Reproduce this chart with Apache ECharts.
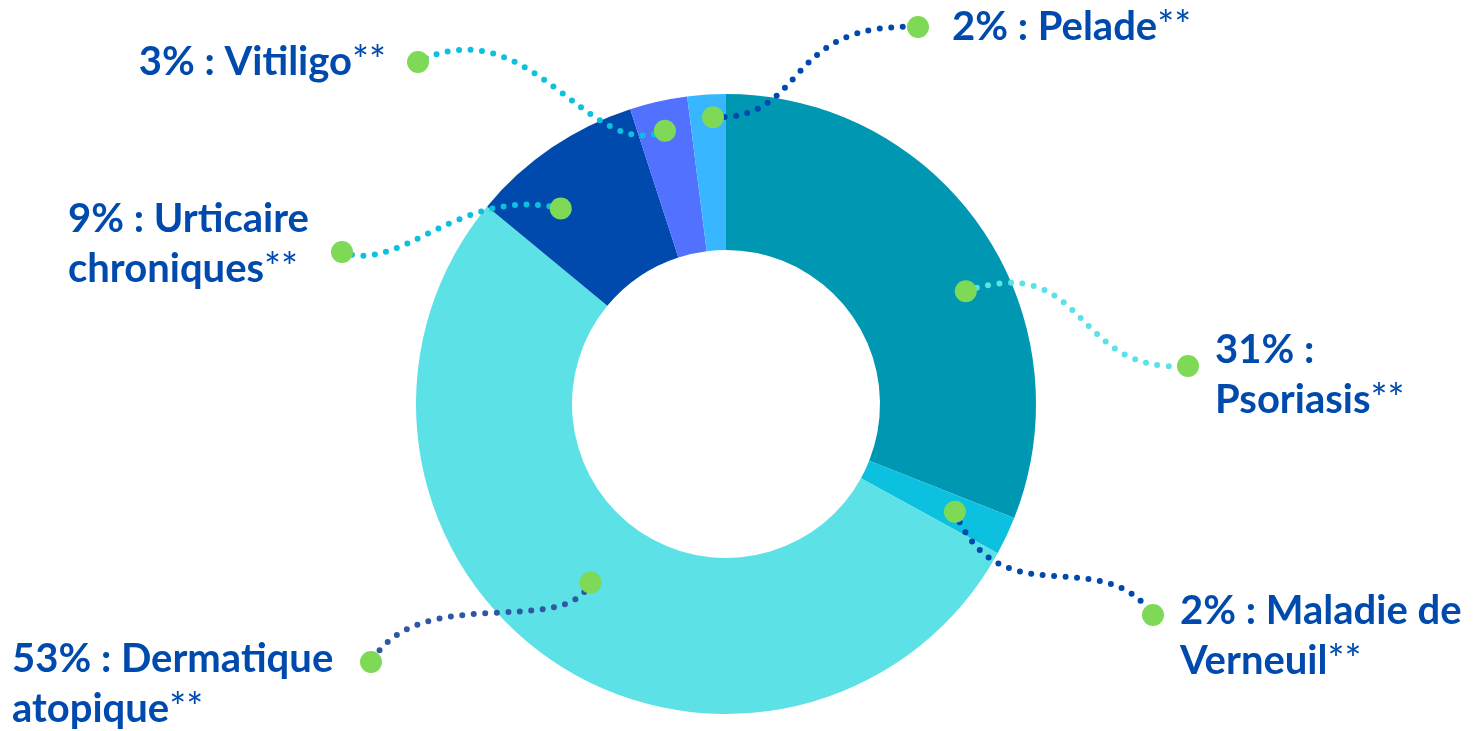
<!DOCTYPE html>
<html>
<head>
<meta charset="utf-8">
<script src="https://cdn.jsdelivr.net/npm/echarts@6/dist/echarts.min.js"></script>
<style>
html, body { margin: 0; padding: 0; background: #fff; }
#picture { width: 1479px; height: 731px; }
</style>
</head>
<body>
<div id="picture"></div>
<script>
// categories and shares (%), clockwise from 12 o'clock
var categories = ['Psoriasis', 'Maladie de Verneuil', 'Dermatique atopique', 'Urticaire chroniques', 'Vitiligo', 'Pelade'];
var shares = [31, 2, 53, 9, 3, 2];
var colors = ['#0097b2', '#0cc0df', '#5ce1e6', '#004aad', '#5271ff', '#38b6ff'];
var lineColors = ['#5ce1e6', '#004aad', '#2f57a3', '#0cc0df', '#0cc0df', '#004aad'];

// label placement + connector shape (layout only)
var labelPos = [
    {x: 1215, y: 375, align: 'left', wrap: 'Psoriasis', pre: true, end: [1188, 366], r: 265, dA: 9, cp1: [1090, 250], cp2: [1070, 375]},
    {x: 1180, y: 636, align: 'left', wrap: 'Maladie de\nVerneuil', end: [1153, 615], r: 253, dA: 0, cp1: [1000, 620], cp2: [1100, 540]},
    {x: 12, y: 684, align: 'left', wrap: 'Dermatique\natopique', end: [371, 662], r: 224, dA: 3, cp1: [565, 640], cp2: [420, 580]},
    {x: 68, y: 244, align: 'left', wrap: 'Urticaire\nchroniques', end: [342, 252], r: 256, dA: -6, cp1: [460, 185], cp2: [400, 275]},
    {x: 386, y: 62, align: 'right', wrap: 'Vitiligo', end: [418, 62], r: 280, dA: 0, cp1: [590, 165], cp2: [530, 5]},
    {x: 952, y: 27, align: 'left', wrap: 'Pelade', end: [918, 27], r: 287, dA: 1, cp1: [810, 120], cp2: [780, 22]}
];

var cx = 726, cy = 404;
var rIn = 154, rOut = 310;

function labelText(i) {
    var lp = labelPos[i];
    var head = shares[i] + '% :';
    var lines;
    if (lp.pre) {
        lines = [head, lp.wrap];
    } else {
        lines = (head + ' ' + lp.wrap).split('\n');
    }
    var out = [];
    for (var k = 0; k < lines.length; k++) {
        var s = '{b|' + lines[k] + '}';
        if (k == lines.length - 1) s += '{s|**}';
        out.push(s);
    }
    return out.join('\n');
}

function connectors() {
    var total = 0;
    for (var i = 0; i < shares.length; i++) total += shares[i];
    var els = [];
    var acc = 0;
    for (var i = 0; i < shares.length; i++) {
        var lp = labelPos[i];
        var mid = (acc + shares[i] / 2) / total * 360 + lp.dA;
        acc += shares[i];
        var a = mid * Math.PI / 180;
        var sx = cx + lp.r * Math.sin(a);
        var sy = cy - lp.r * Math.cos(a);
        els.push({
            type: 'bezierCurve',
            z: 100,
            silent: true,
            shape: {
                x1: sx, y1: sy,
                cpx1: lp.cp1[0], cpy1: lp.cp1[1],
                cpx2: lp.cp2[0], cpy2: lp.cp2[1],
                x2: lp.end[0], y2: lp.end[1]
            },
            style: {
                fill: null,
                stroke: lineColors[i],
                lineWidth: 6,
                lineDash: [0, 11.5],
                lineCap: 'round'
            }
        });
        els.push({type: 'circle', z: 101, silent: true, shape: {cx: sx, cy: sy, r: 11}, style: {fill: '#7ed957'}});
        els.push({type: 'circle', z: 101, silent: true, shape: {cx: lp.end[0], cy: lp.end[1], r: 11}, style: {fill: '#7ed957'}});
    }
    return els;
}

var data_pie = [];
for (var i = 0; i < categories.length; i++) {
    data_pie.push({value: shares[i], name: categories[i], itemStyle: {color: colors[i]}});
}

var myChart = echarts.init(document.getElementById('picture'));
var option = {
    animation: false,
    backgroundColor: '#fff',
    series: [
        {
            name: 'maladies',
            type: 'pie',
            center: [cx, cy],
            radius: [rIn, rOut],
            startAngle: 90,
            clockwise: true,
            avoidLabelOverlap: false,
            emphasis: {disabled: true},
            label: {
                show: true,
                position: 'outside',
                formatter: function (p) { return labelText(p.dataIndex); },
                rich: {
                    b: {
                        fontFamily: 'Lato',
                        fontWeight: 'bold',
                        fontSize: 40,
                        lineHeight: 50,
                        color: '#004aad'
                    },
                    s: {
                        fontFamily: 'Lato',
                        fontWeight: 'normal',
                        fontSize: 40,
                        lineHeight: 50,
                        color: '#004aad'
                    }
                }
            },
            labelLine: {show: false},
            labelLayout: function (p) {
                var lp = labelPos[p.dataIndex];
                return {x: lp.x, y: lp.y, align: lp.align, verticalAlign: 'middle'};
            },
            data: data_pie
        }
    ],
    graphic: {elements: connectors()}
};
myChart.setOption(option);
</script>
</body>
</html>
